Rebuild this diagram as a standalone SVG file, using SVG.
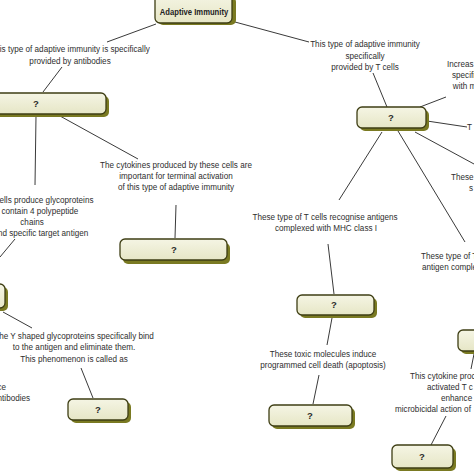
<svg xmlns="http://www.w3.org/2000/svg" width="474" height="474" viewBox="0 0 474 474">
<defs>
<linearGradient id="gf" x1="0" y1="0" x2="0" y2="1">
<stop offset="0" stop-color="#f5f5e4"/>
<stop offset="1" stop-color="#e6e6c6"/>
</linearGradient>
</defs>
<style>
.bg{fill:#ffffff}
.sh{fill:#7a7a22}
.bx{fill:url(#gf);stroke:#3e3e14;stroke-width:1.3}
.q{font-family:"Liberation Sans",Arial,sans-serif;font-size:9.5px;font-weight:bold;fill:#2a2a2a;text-anchor:middle}
.t,.ts,.te{font-family:"Liberation Sans",Arial,sans-serif;font-size:9.8px;fill:#2e2e2e;transform-box:fill-box}
.t{text-anchor:middle;transform-origin:center;transform:scaleX(0.83)}
.ts{text-anchor:start;transform-origin:left;transform:scaleX(0.83)}
.te{text-anchor:end;transform-origin:right;transform:scaleX(0.83)}
.b{font-family:"Liberation Sans",Arial,sans-serif;font-size:9px;font-weight:bold;fill:#222;text-anchor:middle;transform-box:fill-box;transform-origin:center;transform:scaleX(0.85)}
.ln{stroke:#3a3a3a;stroke-width:1;fill:none}
</style>
<rect class="bg" x="0" y="0" width="474" height="474"/>
<g id="connectors">
<line class="ln" x1="156" y1="24" x2="107" y2="42"/>
<line class="ln" x1="62" y1="67" x2="43" y2="92"/>
<line class="ln" x1="36" y1="116" x2="35" y2="185"/>
<line class="ln" x1="60" y1="116" x2="138" y2="159"/>
<line class="ln" x1="176" y1="205" x2="175" y2="238"/>
<line class="ln" x1="15" y1="239" x2="0" y2="257"/>
<line class="ln" x1="3" y1="312" x2="32" y2="328"/>
<line class="ln" x1="81" y1="368" x2="93" y2="398"/>
<line class="ln" x1="235" y1="22" x2="309" y2="42"/>
<line class="ln" x1="373" y1="73" x2="387" y2="107"/>
<line class="ln" x1="420" y1="107" x2="446" y2="97"/>
<line class="ln" x1="427" y1="121" x2="467" y2="127"/>
<line class="ln" x1="415" y1="132" x2="474" y2="164"/>
<line class="ln" x1="382" y1="132" x2="339" y2="200"/>
<line class="ln" x1="398" y1="131" x2="465" y2="242"/>
<line class="ln" x1="328" y1="244" x2="334" y2="294"/>
<line class="ln" x1="332" y1="318" x2="327" y2="345"/>
<line class="ln" x1="319" y1="375" x2="313" y2="404"/>
<line class="ln" x1="474" y1="354" x2="471" y2="369"/>
<line class="ln" x1="446" y1="416" x2="431" y2="445"/>
</g>
<g id="labels">
<text class="t" x="70" y="52">This type of adaptive immunity is specifically</text>
<text class="t" x="70" y="64">provided by antibodies</text>
<text class="t" x="176" y="168">The cytokines produced by these cells are</text>
<text class="t" x="176" y="179">important for terminal activation</text>
<text class="t" x="176" y="190">of this type of adaptive immunity</text>
<text class="t" x="32" y="203">These cells produce glycoproteins</text>
<text class="t" x="32" y="214">that contain 4 polypeptide</text>
<text class="t" x="32" y="225">chains</text>
<text class="t" x="32" y="236">that bind specific target antigen</text>
<text class="t" x="74" y="339">The Y shaped glycoproteins specifically bind</text>
<text class="t" x="74" y="350">to the antigen and eliminate them.</text>
<text class="t" x="74" y="362">This phenomenon is called as</text>
<text class="te" x="6" y="390">ce</text>
<text class="te" x="30" y="401">antibodies</text>
<text class="t" x="365" y="47">This type of adaptive immunity</text>
<text class="t" x="365" y="59">specifically</text>
<text class="t" x="365" y="70">provided by T cells</text>
<text class="ts" x="447" y="67">Increas</text>
<text class="ts" x="452" y="78">specifi</text>
<text class="ts" x="453" y="89">with m</text>
<text class="ts" x="467" y="130">T</text>
<text class="ts" x="451" y="180">These</text>
<text class="ts" x="469" y="191">s</text>
<text class="t" x="325" y="220">These type of T cells recognise antigens</text>
<text class="t" x="326" y="231">complexed with MHC class I</text>
<text class="ts" x="421" y="259">These type of T</text>
<text class="ts" x="422" y="270">antigen comple</text>
<text class="t" x="323" y="357">These toxic molecules induce</text>
<text class="t" x="323" y="368">programmed cell death (apoptosis)</text>
<text class="ts" x="410" y="379">This cytokine proc</text>
<text class="ts" x="427" y="390">activated T c</text>
<text class="ts" x="441" y="401">enhance</text>
<text class="ts" x="395" y="412">microbicidal action of</text>
</g>
<g id="node-adaptive">
<rect class="sh" x="158" y="-3" width="78" height="28" rx="5"/>
<rect class="bx" x="155" y="-6" width="77" height="29" rx="5"/>
<text class="b" x="194" y="15">Adaptive Immunity</text>
</g>
<g id="node-a">
<rect class="sh" x="-31" y="96" width="140" height="21" rx="5"/>
<rect class="bx" x="-34" y="93" width="140" height="21" rx="5"/>
<text class="q" x="36" y="107">?</text>
</g>
<g id="node-b">
<rect class="sh" x="123" y="243" width="107" height="21" rx="5"/>
<rect class="bx" x="120" y="239" width="107" height="21" rx="5"/>
<text class="q" x="174" y="253">?</text>
</g>
<g id="node-c">
<rect class="sh" x="-57" y="287" width="65" height="24" rx="5"/>
<rect class="bx" x="-60" y="284" width="65" height="24" rx="5"/>
</g>
<g id="node-d">
<rect class="sh" x="71" y="402" width="60" height="21" rx="5"/>
<rect class="bx" x="68" y="399" width="60" height="21" rx="5"/>
<text class="q" x="98" y="413">?</text>
</g>
<g id="node-e">
<rect class="sh" x="360" y="110" width="69" height="21" rx="5"/>
<rect class="bx" x="357" y="107" width="69" height="21" rx="5"/>
<text class="q" x="391" y="121">?</text>
</g>
<g id="node-f">
<rect class="sh" x="300" y="298" width="77" height="20" rx="5"/>
<rect class="bx" x="297" y="295" width="77" height="20" rx="5"/>
<text class="q" x="334" y="308">?</text>
</g>
<g id="node-g">
<rect class="sh" x="461" y="333" width="60" height="21" rx="5"/>
<rect class="bx" x="458" y="330" width="60" height="21" rx="5"/>
</g>
<g id="node-h">
<rect class="sh" x="272" y="408" width="83" height="21" rx="5"/>
<rect class="bx" x="269" y="405" width="83" height="21" rx="5"/>
<text class="q" x="310" y="419">?</text>
</g>
<g id="node-i">
<rect class="sh" x="395" y="448" width="61" height="23" rx="5"/>
<rect class="bx" x="392" y="445" width="61" height="23" rx="5"/>
<text class="q" x="422" y="460">?</text>
</g>
</svg>
